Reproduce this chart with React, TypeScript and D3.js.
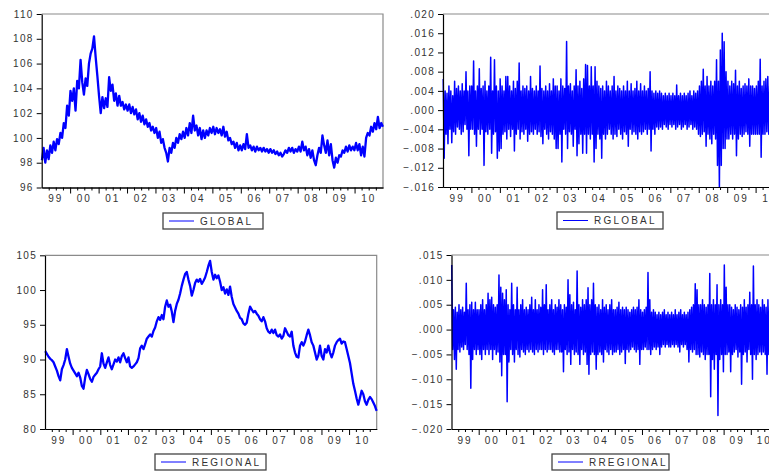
import React, { useEffect, useRef } from 'react';
import * as d3 from 'd3';

// daily index, Jan 1999 - Dec 2010 (subsampled)
const globalLevel = [
  98.2, 99.2, 98.0, 99.0, 98.3, 99.4, 98.8, 99.7, 99.0, 99.9, 99.5, 100.4, 100.0, 101.2, 100.8, 102.6, 101.8, // 99
  103.8, 103.0, 104.0, 102.2, 104.6, 104.0, 106.3, 104.5, 103.5, 104.8, 104.2, 106.0, 106.8, 107.2, 108.2, 106.5, 105.0, // 00
  103.4, 102.0, 103.3, 102.4, 103.2, 102.5, 104.9, 103.8, 104.3, 103.0, 103.6, 102.6, 103.4, 102.6, 102.9, 102.3, 102.7, // 01
  102.2, 102.7, 102.0, 102.5, 101.9, 102.3, 101.5, 102.0, 101.3, 101.8, 101.1, 101.5, 100.9, 101.2, 100.6, 100.9, 100.4, // 02
  100.8, 100.0, 100.5, 99.6, 99.9, 99.2, 98.8, 98.1, 99.2, 98.8, 99.6, 99.2, 100.0, 99.6, 100.3, 99.9, 100.5, // 03
  100.0, 100.8, 100.2, 101.2, 100.4, 101.8, 100.6, 101.0, 100.2, 100.8, 99.9, 100.6, 100.0, 100.6, 100.2, 100.8, 100.4, // 04
  100.9, 100.3, 100.8, 100.4, 100.7, 100.2, 100.9, 100.1, 100.5, 99.8, 100.0, 99.5, 99.7, 99.2, 99.6, 99.0, 99.4, // 05
  99.0, 99.5, 99.1, 100.3, 99.2, 99.4, 99.0, 99.3, 98.9, 99.3, 99.0, 99.2, 98.9, 99.2, 98.9, 99.1, 98.8, // 06
  99.1, 98.8, 99.0, 98.7, 98.9, 98.6, 98.8, 98.5, 98.7, 99.0, 98.8, 99.2, 98.9, 99.2, 98.8, 99.1, 98.9, // 07
  99.3, 98.9, 99.7, 99.0, 99.3, 98.6, 99.1, 98.4, 99.0, 98.2, 97.8, 98.6, 99.2, 98.8, 100.2, 99.4, 98.8, // 08
  99.8, 98.6, 99.5, 98.2, 97.6, 98.4, 98.0, 98.6, 98.5, 99.0, 98.8, 99.3, 98.9, 99.4, 99.0, 99.3, 99.0, // 09
  99.6, 99.0, 99.5, 98.6, 99.3, 98.5, 100.0, 100.4, 100.2, 100.9, 100.5, 101.2, 100.7, 101.7, 100.8, 101.2, 100.9, // 10
];

const regionalLevel = [
  91.2, 90.8, 90.4, 90.1, 89.9, 89.6, 89.0, 88.4, 87.6, 87.0, 88.6, 89.2, 90.0, 91.5, 90.4, 89.4,
  88.8, 88.4, 88.0, 87.6, 88.1, 87.4, 86.2, 85.8, 87.4, 88.5, 87.9, 87.2, 86.8, 87.5, 87.8, 88.1,
  88.6, 89.0, 90.9, 89.4, 88.8, 89.6, 90.3, 89.2, 88.6, 89.3, 90.0, 89.7, 90.3, 89.6, 90.5, 90.9,
  90.2, 89.6, 90.3, 89.0, 88.8, 89.0, 89.3, 89.6, 90.2, 91.6, 92.0, 91.5, 92.2, 93.0, 93.3, 93.6,
  93.3, 94.1, 94.6, 95.5, 96.1, 95.7, 96.4, 95.8, 97.6, 98.5, 97.6, 97.9, 96.9, 95.4, 97.0, 98.0,
  98.6, 99.5, 100.6, 101.5, 102.3, 102.6, 101.5, 100.6, 99.2, 100.0, 101.0, 101.5, 101.2, 101.6, 100.9, 101.3,
  101.8, 102.6, 103.5, 104.2, 102.6, 101.5, 102.2, 101.7, 102.1, 101.2, 100.0, 100.4, 99.5, 100.1, 99.3, 100.5,
  99.0, 98.0, 97.5, 97.0, 96.6, 96.0, 95.8, 95.2, 95.0, 95.3, 96.6, 97.6, 97.2, 96.8, 97.0, 96.6,
  96.3, 95.8, 95.5, 96.1, 95.5, 94.5, 94.0, 93.8, 94.3, 93.8, 94.3, 93.5, 93.3, 93.6, 93.0, 93.4,
  94.5, 94.0, 93.5, 93.3, 94.0, 92.0, 91.0, 90.4, 90.3, 92.0, 92.5, 92.0, 92.6, 93.5, 94.3, 93.5,
  92.5, 92.0, 91.0, 90.0, 90.6, 92.0, 90.5, 90.0, 91.5, 91.0, 92.0, 91.0, 90.3, 91.0, 92.0, 92.5,
  92.8, 93.0, 92.3, 92.6, 92.5, 91.5, 90.5, 89.5, 88.0, 86.5, 85.5, 84.4, 83.5, 84.5, 85.5, 85.0,
  84.0, 83.5, 84.2, 84.6, 84.3, 83.8, 83.3, 82.6,
];

// returns in thousandths (.001 units)
const rGlobalMilli = [
  6.5, -10, 4, -5, 3.5, -7, 5, -4, 4, -6.8, 3, -4.5, 6, -5, 4.5, -3.5, 5, -4, 4, -5, 5.5, -4.5, 4, -3, 8, -4, 4, -9.5, 5, -4,
  5, -4, 10.2, -5, 4, -7.5, 5, -4, 8.6, -5, 4.5, -4, 5, -11.5, 6, -4.5, 4, -5, 5, -4, 11, -9, 4, -5, 10.5, -4.5, 5, -10, 4, -8.5,
  6.5, -8, 5, -5, 4, -4.5, 7, -6, 7, -4, 5, -5.5, 4, -4, 6, -8.5, 4.5, -5, 6, -4, 9.8, -6, 4, -4.5, 5, -5, 4.5, -4, 5, -6.5,
  4, -5, 7, -4.5, 4.5, -5, 4, -4, 5, -5, 4, -4.5, 9.2, -5.5, 4.5, -7, 4, -4, 5, -5, 4, -6, 5.5, -4.5, 4, -5, 6.5, -6, 5, -8,
  5, -8, 4, -5, 6.5, -10.8, 5, -4, 4.5, -5, 14.3, -8, 5, -4.5, 5.5, -5, 4, -7.5, 5, -4, 8.4, -9.5, 5, -7, 6, -5, 4.5, -9, 6.5, -5,
  9.5, -9, 9.3, -5, 5, -6, 9, -5, 5, -10.8, 9, -8, 6, -5, 5, -6, 4.5, -10, 5, -5, 4, -6, 6, -5, 5, -4, 4, -5, 5, -6,
  7, -5, 4, -5.5, 5, -4, 4.5, -5, 4, -6, 5, -4.5, 4, -5, 6, -7.5, 4, -4, 5.5, -5, 4, -4.5, 4.5, -5, 6, -6, 4, -4.5, 5.5, -5,
  4, -4.5, 5, -4, 4, -5, 4.5, -4, 8, -8.5, 4, -4, 3.5, -5, 4, -3.5, 3.5, -4, 4, -3.5, 3.5, -4, 3, -3, 3.5, -3.5, 3, -4, 3.5, -3,
  3, -3.5, 3.5, -3, 3, -4, 5.2, -3.5, 3, -3, 3.5, -4, 3, -3.5, 3.5, -3, 3, -4, 3.5, -3.5, 4, -3, 3, -4, 4, -3.5, 3.5, -4, 4, -5,
  5, -5.5, 6, -5, 8.5, -4.5, 5, -7.5, 7, -5, 5, -6, 6, -7, 5, -5, 6, -6, 10.5, -11.5, 6, -16, 12.5, -11.5, 16, -8, 14.2, -8, 8, -6,
  6, -6, 5, -5, 6, -6, 5.5, -5, 8.3, -9.5, 5, -6, 6, -5, 4.5, -5.5, 5, -5, 5.5, -4.5, 5, -5, 6.5, -7.5, 5, -5, 5, -5, 4.5, -5,
  5, -5, 6, -5, 10.6, -9.8, 5, -5, 6, -5, 6.5, -4.5, 7, -5, 5, -5, 6, -5, 5, -6, 5, -5, 6, -5, 5, -5, 5, -5, 5, -5,
];

const rRegionalMilli = [
  13, -4, 4, -6, 4.5, -8, 3.5, -4, 5, -4.5, 4, -3.5, 4.5, -4, 3.5, -3, 9.3, -4, 4, -5, 5, -11.8, 5.5, -6, 4, -4, 5.5, -5, 4, -4,
  4, -5, 5, -6, 6, -4, 4, -5, 5, -4, 7.3, -5, 6, -4, 6.5, -6, 5, -4, 4.5, -5, 5, -4.5, 11, -6.5, 8.5, -9.3, 7.3, -5, 6, -5,
  8, -14.5, 5, -6.5, 4, -4, 9.3, -5, 5, -6.5, 4, -4, 8.5, -5, 4, -5.5, 5, -4, 6, -4.5, 4, -5, 4.5, -4, 4, -4.5, 5, -4, 6.5, -4.5,
  4, -5, 6, -4, 4, -4.5, 5, -4, 4.5, -4, 8, -5, 5, -4, 9, -4.5, 4, -4, 5, -4, 6, -4.5, 4, -5, 5, -4, 4.5, -4, 6, -4.5,
  5, -4.5, 4, -8.5, 5, -4, 4.5, -5, 10, -4.5, 7, -7, 5, -4, 5.5, -5, 4, -4.5, 11.8, -5, 5, -7, 4.5, -4, 6, -5, 5, -4.5, 6, -7,
  8.4, -9, 5, -5, 6, -4.5, 9.3, -5, 5, -8, 4.5, -5, 5, -4.5, 4, -5, 6, -6.5, 4.5, -4, 5, -4.5, 4, -5, 5, -4, 6, -5, 4, -4.5,
  4, -4.5, 4.5, -4, 5.5, -5, 4, -4.5, 4.5, -4, 4, -6.8, 4.5, -4, 4, -4.5, 3.5, -4, 4, -3.5, 4.5, -4, 4, -4.5, 4.5, -4, 6, -7, 4, -4,
  3.5, -4, 4, -3.5, 4.5, -4, 11.5, -4, 6, -5, 3.5, -4, 4, -3.5, 3.5, -4, 3, -3.5, 3.5, -5, 3, -3.5, 3.5, -3, 4, -3.5, 3, -3, 3.5, -3.5,
  3, -3.5, 3.5, -3, 3, -3.5, 4, -3, 3, -3.5, 3.5, -4.5, 4, -3, 3, -3.5, 3.5, -3, 3, -4, 3.5, -6.5, 4, -4, 4.5, -4.5, 5, -4, 9.2, -5,
  8, -5, 5, -5.5, 5, -4.5, 6, -5, 5, -6, 4.5, -5, 5, -5, 11.3, -13.5, 5, -6, 6, -8, 5, -5, 9, -17.3, 5, -6, 6, -5, 5, -8.5,
  13, -5, 8.5, -5, 5, -4.5, 5, -8.5, 4.5, -5, 4, -4.5, 5, -4, 4.5, -5.5, 4, -4.5, 5, -11, 4.5, -5, 6, -4.5, 4.5, -6.5, 5, -4, 7.5, -5,
  5, -10, 12.8, -5, 5, -6, 6, -5, 5, -4.5, 4.5, -5, 6, -4.5, 5, -5, 4.5, -9, 6, -5, 5, -7, 5, -5, 4.5, -5, 5, -5, 5, -5,
];

const globalTicks = [96, 98, 100, 102, 104, 106, 108, 110];
const regionalTicks = [80, 85, 90, 95, 100, 105];
const rGlobalTicks = [-0.016, -0.012, -0.008, -0.004, 0, 0.004, 0.008, 0.012, 0.016, 0.02];
const rRegionalTicks = [-0.02, -0.015, -0.01, -0.005, 0, 0.005, 0.01, 0.015];
const yearLabels = ['99', '00', '01', '02', '03', '04', '05', '06', '07', '08', '09', '10'];

const FIRST_DAY = new Date(1999, 0, 4);
const LAST_DAY = new Date(2010, 11, 31);
const AXIS_START = new Date(1999, 0, 1);
const AXIS_END = new Date(2011, 0, 1);
const FONT = '"Liberation Sans", Arial, sans-serif';
const TEXT = '#333';

const noLead = (v) => (v === 0 ? '.000' : d3.format('.3f')(v).replace('0.', '.'));

const panels = [
  { x0: 41.7, x1: 383, y0: 14, y1: 187.5, domain: [96, 110], ticks: globalTicks, fmt: d3.format('d'),
    values: globalLevel, sw: 2.3, label: 'GLOBAL', box: [163, 213, 100, 16] },
  { x0: 443, x1: 784, y0: 14, y1: 187, domain: [-0.016, 0.02], ticks: rGlobalTicks, fmt: noLead,
    values: rGlobalMilli.map(v => v / 1000), sw: 1.5, label: 'RGLOBAL', box: [557, 212, 106, 17] },
  { x0: 45, x1: 376.7, y0: 255.3, y1: 429, domain: [80, 105], ticks: regionalTicks, fmt: d3.format('d'),
    values: regionalLevel, sw: 2.3, label: 'REGIONAL', box: [155, 454, 111, 16] },
  { x0: 451.5, x1: 778, y0: 255, y1: 429, domain: [-0.02, 0.015], ticks: rRegionalTicks, fmt: noLead,
    values: rRegionalMilli.map(v => v / 1000), sw: 1.5, label: 'RREGIONAL', box: [552, 454, 117, 16] },
];

function drawPanel(svg, p) {
  const g = svg.append('g');
  const x = d3.scaleTime().domain([AXIS_START, AXIS_END]).range([p.x0, p.x1]);
  const y = d3.scaleLinear().domain(p.domain).range([p.y1, p.y0]);
  const t = d3.scaleLinear().domain([0, p.values.length - 1]).range([+FIRST_DAY, +LAST_DAY]);

  // frame (top/right in grey)
  g.append('path')
    .attr('d', `M${p.x0},${p.y0}H${p.x1}V${p.y1}`)
    .attr('fill', 'none').attr('stroke', '#8a8a8a').attr('stroke-width', 1.2);

  const line = d3.line().x((d, i) => x(new Date(t(i)))).y(d => y(d));
  g.append('path').datum(p.values)
    .attr('d', line)
    .attr('fill', 'none')
    .attr('stroke', '#0000ff')
    .attr('stroke-width', p.sw)
    .attr('stroke-linejoin', 'round');

  // y axis
  const ya = g.append('g').attr('transform', `translate(${p.x0},0)`)
    .call(d3.axisLeft(y).tickValues(p.ticks).tickSize(5).tickSizeOuter(0).tickPadding(3).tickFormat(p.fmt));

  // x axis: quarterly minor ticks, yearly major ticks
  const quarters = d3.timeMonth.every(3).range(new Date(1999, 3, 1), AXIS_END)
    .filter(d => d.getMonth() !== 0);
  const years = d3.timeYear.range(new Date(2000, 0, 1), AXIS_END);
  g.append('g').attr('transform', `translate(0,${p.y1})`)
    .call(d3.axisBottom(x).tickValues(quarters).tickSize(3).tickSizeOuter(0).tickFormat(() => ''));
  g.append('g').attr('transform', `translate(0,${p.y1})`)
    .call(d3.axisBottom(x).tickValues(years).tickSize(6).tickSizeOuter(0).tickFormat(() => ''));

  g.append('g').selectAll('text')
    .data(yearLabels)
    .join('text')
    .attr('x', (d, i) => x(new Date(1999 + i, 6, 2)))
    .attr('y', p.y1 + 14.5)
    .attr('text-anchor', 'middle')
    .style('letter-spacing', '2px')
    .text(d => d);

  g.selectAll('.domain').attr('stroke', '#000').attr('stroke-width', 1.2);
  g.selectAll('.tick line').attr('stroke', '#000');
  ya.selectAll('text').style('letter-spacing', '1.3px');
  g.selectAll('text').attr('fill', TEXT).style('font-family', FONT).style('font-size', '10px');

  // legend
  const [bx, by, bw, bh] = p.box;
  const lg = g.append('g');
  lg.append('rect').attr('x', bx).attr('y', by).attr('width', bw).attr('height', bh)
    .attr('fill', '#fff').attr('stroke', '#444').attr('stroke-width', 1.3);
  lg.append('line').attr('x1', bx + 6).attr('x2', bx + 31).attr('y1', by + bh / 2).attr('y2', by + bh / 2)
    .attr('stroke', '#0000ff').attr('stroke-width', 1);
  lg.append('text').attr('x', bx + 37).attr('y', by + bh / 2 + 3.8)
    .attr('fill', TEXT).style('font-family', FONT).style('font-size', '10px')
    .style('letter-spacing', '2.2px')
    .text(p.label);
}

export default function App() {
  const ref = useRef(null);

  useEffect(() => {
    const svg = d3.select(ref.current);
    svg.selectAll('*').remove();
    panels.forEach(p => drawPanel(svg, p));
  }, []);

  return (
    <svg ref={ref} width={769} height={471}
      style={{ position: 'absolute', left: 0, top: 0, background: '#fff' }} />
  );
}
